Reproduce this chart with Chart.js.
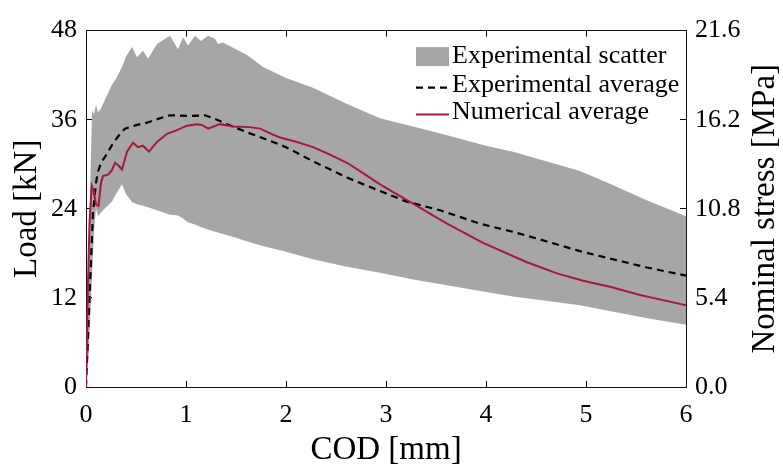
<!DOCTYPE html>
<html>
<head>
<meta charset="utf-8">
<script src="https://cdn.jsdelivr.net/npm/chart.js@4/dist/chart.umd.min.js"></script>
<style>
  html, body { margin: 0; padding: 0; background: #ffffff; }
  #wrap { width: 783px; height: 467px; }
</style>
</head>
<body>
<div id="wrap"><canvas id="c" width="783" height="467"></canvas></div>
<script>
// ---------------- data ----------------
const scatterX     = [0,0.03,0.06,0.08,0.1,0.12,0.15,0.2,0.26,0.3,0.36,0.4,0.46,0.51,0.57,0.62,0.71,0.84,0.92,0.97,1.02,1.09,1.15,1.22,1.29,1.32,1.37,1.5,1.61,1.77,2.0,2.27,2.61,2.94,3.3,3.61,4.0,4.27,4.6,4.94,5.25,5.6,6.0];
const scatterUpper = [0,20,37.2,36.8,38,37,37.5,39,40.7,41.5,43.1,44.5,45.8,44.4,45.3,44.2,46.2,47.3,45.5,47.1,46.0,47.3,46.6,47.3,46.9,46.2,46.4,45.5,44.7,43.1,41.6,40.3,38.1,36.2,35.0,33.9,32.5,31.7,30.4,29.1,27.3,25.2,23.0];
const scatterLower = [0,5,15,21,24,23,23.5,24.2,25,26,27.3,26,24.9,24.6,24.4,24.2,23.8,23.2,23.1,22.7,22.2,21.9,21.5,21.2,20.9,20.8,20.6,20.1,19.6,19.0,18.2,17.2,16.2,15.4,14.4,13.7,12.8,12.2,11.6,11.0,10.2,9.3,8.4];

const expAvgX = [0,0.035,0.07,0.1,0.12,0.15,0.19,0.27,0.33,0.39,0.51,0.61,0.74,0.84,1.04,1.19,1.29,1.41,1.61,1.87,2.0,2.27,2.61,2.94,3.2,3.54,3.94,4.27,4.61,4.94,5.27,5.61,6.0];
const expAvgY = [0,12,23.5,27.5,29.0,30.2,31.0,32.8,33.9,34.8,35.3,35.6,36.2,36.6,36.5,36.6,36.1,35.4,34.3,33.0,32.3,30.4,28.2,26.4,25.0,23.8,22.0,20.9,19.6,18.3,17.2,16.1,15.0];

const numAvgX = [0,0.02,0.035,0.057,0.075,0.1,0.125,0.15,0.17,0.22,0.26,0.29,0.32,0.36,0.41,0.47,0.52,0.57,0.63,0.71,0.81,0.91,1.01,1.11,1.16,1.22,1.34,1.47,1.64,1.74,1.87,1.94,2.11,2.27,2.44,2.61,2.77,2.94,3.27,3.41,3.61,3.97,4.41,4.71,4.97,5.24,5.54,5.77,6.0];
const numAvgY = [0,14,22,27.1,26.5,24.6,24.4,27.5,28.4,28.6,29.2,30.2,29.9,29.3,31.7,32.9,32.3,32.5,31.7,33.0,34.1,34.6,35.2,35.4,35.3,34.8,35.4,35.1,35.0,34.8,34.0,33.6,33.0,32.3,31.3,30.2,28.8,27.3,24.7,23.6,22.0,19.4,16.8,15.3,14.3,13.5,12.4,11.7,11.0];

const xTicks      = [0,1,2,3,4,5,6];
const yLeftTicks  = [0,12,24,36,48];
const yRightTicks = [0,5.4,10.8,16.2,21.6];

const seriesLabels = ['Experimental scatter','Experimental average','Numerical average'];
const xTitle = 'COD [mm]';
const yLeftTitle = 'Load [kN]';
const yRightTitle = 'Nominal stress [MPa]';

// ---------------- helpers ----------------
const pts = (xs, ys) => xs.map((x, i) => ({x: x, y: ys[i]}));
const FONT = "'Liberation Serif', 'Times New Roman', serif";
const GRAY = '#a6a6a6';
const RED = '#a8183c';
const TICK_SIZE = 26, TITLE_SIZE = 33, LEGEND_SIZE = 26;

Chart.defaults.font.family = FONT;
Chart.defaults.color = '#000';

const fixedTicks = (arr) => (scale) => { scale.ticks = arr.map(v => ({value: v})); };

const commonGrid = { drawOnChartArea: false, drawTicks: true, tickLength: -6, tickColor: '#000', tickWidth: 1 };
const commonBorder = { display: true, color: '#111', width: 1 };

const extras = {
  id: 'extras',
  afterDraw(chart) {
    const ctx = chart.ctx, ca = chart.chartArea;
    // right axis title (reads bottom-to-top)
    ctx.save();
    ctx.font = TITLE_SIZE + 'px ' + FONT;
    ctx.fillStyle = '#000';
    ctx.textAlign = 'center';
    ctx.textBaseline = 'middle';
    ctx.translate(ca.right + 79, (ca.top + ca.bottom) / 2);
    ctx.rotate(-Math.PI / 2);
    ctx.fillText(yRightTitle, 0, 0);
    ctx.restore();

    // legend inside the plot (top right)
    const ds = chart.data.datasets;
    const x0 = ca.right - 270, bw = 33, bh = 19;
    const rows = [ca.top + 26, ca.top + 55, ca.top + 82];
    ctx.save();
    ctx.font = LEGEND_SIZE + 'px ' + FONT;
    ctx.textAlign = 'left';
    ctx.textBaseline = 'middle';
    ctx.fillStyle = ds[0].backgroundColor;
    ctx.fillRect(x0, rows[0] - bh / 2, bw, bh);
    ctx.strokeStyle = ds[2].borderColor;
    ctx.lineWidth = ds[2].borderWidth;
    ctx.setLineDash(ds[2].borderDash);
    ctx.beginPath(); ctx.moveTo(x0, rows[1] + 2); ctx.lineTo(x0 + bw, rows[1] + 2); ctx.stroke();
    ctx.setLineDash([]);
    ctx.strokeStyle = ds[3].borderColor;
    ctx.lineWidth = ds[3].borderWidth;
    ctx.beginPath(); ctx.moveTo(x0, rows[2] + 2); ctx.lineTo(x0 + bw, rows[2] + 2); ctx.stroke();
    ctx.fillStyle = '#000';
    ctx.fillText(ds[0].label, x0 + bw + 3, rows[0]);
    ctx.fillText(ds[2].label, x0 + bw + 3, rows[1]);
    ctx.fillText(ds[3].label, x0 + bw + 3, rows[2]);
    ctx.restore();
  }
};

new Chart(document.getElementById('c'), {
  type: 'line',
  data: {
    datasets: [
      { label: seriesLabels[0], data: pts(scatterX, scatterUpper), borderWidth: 0, pointRadius: 0,
        backgroundColor: GRAY, borderColor: GRAY, fill: 1, order: 3, tension: 0 },
      { label: '_lower', data: pts(scatterX, scatterLower), borderWidth: 0, pointRadius: 0,
        backgroundColor: GRAY, borderColor: GRAY, fill: false, order: 4, tension: 0 },
      { label: seriesLabels[1], data: pts(expAvgX, expAvgY), borderColor: '#000', borderWidth: 2.2,
        borderDash: [7, 5], pointRadius: 0, fill: false, order: 1, tension: 0 },
      { label: seriesLabels[2], data: pts(numAvgX, numAvgY), borderColor: RED, borderWidth: 2,
        pointRadius: 0, fill: false, order: 0, tension: 0 }
    ]
  },
  options: {
    responsive: false,
    animation: false,
    devicePixelRatio: 1,
    layout: { padding: 0 },
    plugins: { legend: { display: false }, tooltip: { enabled: false } },
    scales: {
      x: {
        type: 'linear', position: 'bottom', min: 0, max: 6, z: 1,
        afterBuildTicks: fixedTicks(xTicks),
        afterFit: (s) => { s.height = 80; },
        ticks: { font: { size: TICK_SIZE }, color: '#000', padding: 19, maxRotation: 0 },
        grid: commonGrid, border: commonBorder,
        title: { display: true, text: xTitle, font: { size: TITLE_SIZE, lineHeight: 1 }, color: '#000', padding: { top: 0, bottom: 0 } }
      },
      xTop: {
        type: 'linear', position: 'top', min: 0, max: 6, z: 1,
        afterBuildTicks: fixedTicks(xTicks),
        afterFit: (s) => { s.height = 23; },
        ticks: { display: false },
        grid: commonGrid, border: commonBorder
      },
      y: {
        type: 'linear', position: 'left', min: 0, max: 48, z: 1,
        afterBuildTicks: fixedTicks(yLeftTicks),
        afterFit: (s) => { s.width = 86; },
        ticks: { font: { size: TICK_SIZE }, color: '#000', padding: 15 },
        grid: commonGrid, border: commonBorder,
        title: { display: true, text: yLeftTitle, font: { size: TITLE_SIZE, lineHeight: 1 }, color: '#000', padding: { top: 11, bottom: 0 } }
      },
      y2: {
        type: 'linear', position: 'right', min: 0, max: 21.6, z: 1,
        afterBuildTicks: fixedTicks(yRightTicks),
        afterFit: (s) => { s.width = 97; },
        ticks: { font: { size: TICK_SIZE }, color: '#000', padding: 15, callback: (v) => Number(v).toFixed(1) },
        grid: commonGrid, border: commonBorder
      }
    }
  },
  plugins: [extras]
});
</script>
</body>
</html>
